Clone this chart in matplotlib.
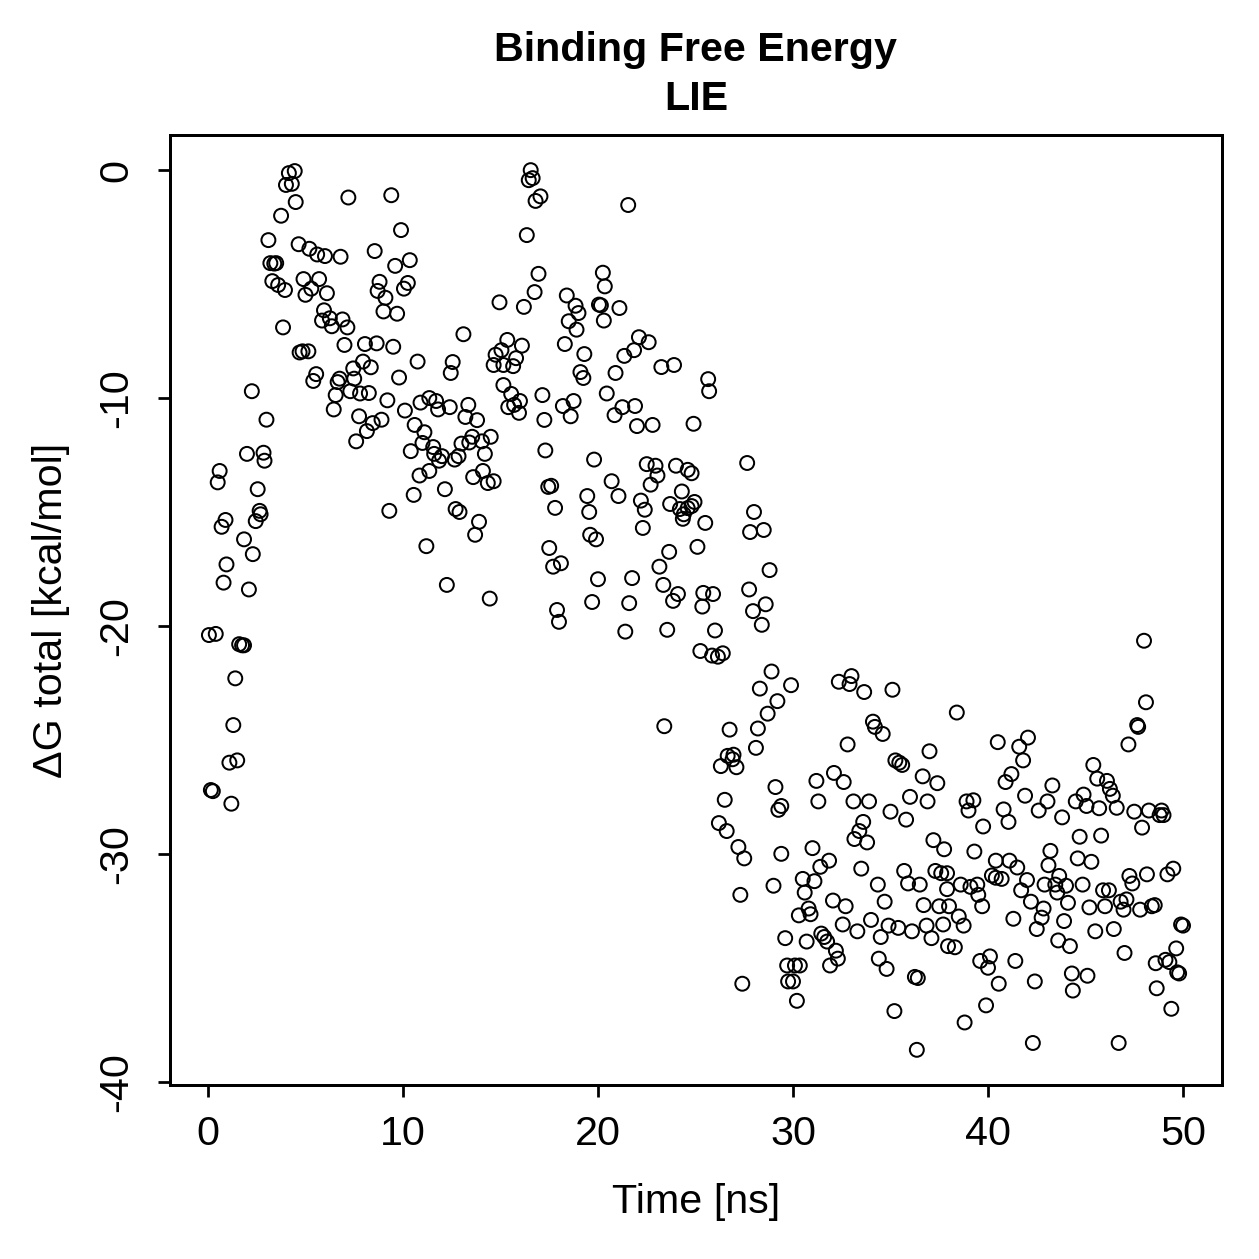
import numpy as np
import matplotlib.pyplot as plt

plt.rcParams['font.family'] = ['Liberation Sans', 'DejaVu Sans']
plt.rcParams['axes.unicode_minus'] = False

# time [ns] and dG total [kcal/mol]
time_ns = [
    0.05, 0.15, 0.25, 0.4, 0.5, 0.6, 0.7, 0.8, 0.9, 0.95, 1.1, 1.2, 1.3, 1.4, 1.5, 1.6,
    1.75, 1.85, 1.85, 2.0, 2.1, 2.25, 2.3, 2.45, 2.55, 2.65, 2.7, 2.85, 2.9, 3.0,
    3.1, 3.2, 3.3, 3.4, 3.5, 3.6, 3.75, 3.85, 3.95, 4.0, 4.15, 4.3, 4.45, 4.5, 4.65, 4.7,
    4.85, 4.9, 5.0, 5.15, 5.2, 5.3, 5.4, 5.55, 5.6, 5.7, 5.85, 5.95, 6.0, 6.1, 6.25, 6.35,
    6.45, 6.55, 6.65, 6.75, 6.8, 6.9, 7.0, 7.15, 7.2, 7.3, 7.45, 7.5, 7.6, 7.75, 7.8, 7.95,
    8.05, 8.15, 8.25, 8.35, 8.45, 8.55, 8.65, 8.7, 8.8, 8.9, 9.0, 9.1, 9.2, 9.3, 9.4, 9.5,
    9.6, 9.7, 9.8, 9.9, 10.05, 10.1,
    10.25, 10.35, 10.4, 10.55, 10.6, 10.75, 10.85, 10.9, 11.0, 11.1, 11.2, 11.35, 11.35,
    11.55, 11.6, 11.7, 11.8, 11.85, 12.0, 12.15, 12.25, 12.4, 12.45, 12.55, 12.65, 12.7,
    12.85, 12.9, 13.0, 13.1, 13.2, 13.35, 13.4, 13.55, 13.6, 13.7, 13.8, 13.9, 14.05, 14.1,
    14.2, 14.35, 14.45, 14.5, 14.65, 14.65, 14.75, 14.95, 15.05, 15.15, 15.15, 15.35, 15.4,
    15.55, 15.65, 15.7, 15.8, 15.95, 16.0, 16.1, 16.2, 16.35, 16.45, 16.55, 16.65, 16.75,
    16.8, 16.95, 17.05, 17.15, 17.25, 17.3, 17.45, 17.5, 17.6, 17.7, 17.8, 17.9, 18.0, 18.1,
    18.2, 18.3, 18.4, 18.5, 18.6, 18.75, 18.85, 18.9, 19.0, 19.1, 19.25, 19.3, 19.45, 19.55,
    19.6, 19.7, 19.8, 19.9, 20.0, 20.05, 20.15, 20.25, 20.3, 20.35, 20.45,
    20.7, 20.85, 20.9, 21.05, 21.1, 21.25, 21.35, 21.4, 21.55, 21.6, 21.75, 21.85, 21.9,
    22.0, 22.1, 22.2, 22.3, 22.4, 22.5, 22.6, 22.7, 22.8, 22.95, 23.05, 23.15, 23.25, 23.35,
    23.4, 23.55, 23.65, 23.7, 23.85, 23.9, 24.0, 24.1, 24.2, 24.3, 24.35, 24.4, 24.6, 24.6,
    24.8, 24.8, 24.9, 24.95, 25.1, 25.25, 25.35, 25.4, 25.5, 25.65, 25.7, 25.85, 25.9, 26.0,
    26.15, 26.2, 26.3, 26.4, 26.5, 26.6, 26.65, 26.75, 26.9, 26.95, 27.1, 27.2, 27.3, 27.4,
    27.5, 27.65, 27.75, 27.8, 27.95, 28.0, 28.1, 28.2, 28.3, 28.4, 28.5, 28.6, 28.7, 28.8,
    28.9, 29.0, 29.1, 29.2, 29.25, 29.4, 29.4, 29.6, 29.7, 29.75, 29.9, 30.0, 30.1, 30.2,
    30.3, 30.35, 30.5, 30.6, 30.7, 30.8, 30.9, 31.0, 31.1, 31.2, 31.3, 31.4, 31.45, 31.6,
    31.75, 31.85, 31.9, 32.05, 32.1, 32.2, 32.3, 32.35, 32.55, 32.6, 32.7, 32.8, 32.9, 33.0,
    33.1, 33.15, 33.3, 33.4, 33.5, 33.6, 33.65, 33.8, 33.9, 34.0, 34.1, 34.2, 34.35, 34.4,
    34.5, 34.6, 34.7, 34.8, 34.9, 35.0, 35.1, 35.2, 35.25, 35.4, 35.45, 35.6, 35.7, 35.8,
    35.9, 36.0, 36.1, 36.25, 36.35, 36.4, 36.5, 36.65, 36.7, 36.85, 36.9, 37.0, 37.1, 37.2,
    37.3, 37.4, 37.5, 37.6, 37.7, 37.75, 37.9, 37.9, 37.95, 38.0, 38.3, 38.4, 38.5, 38.6,
    38.75, 38.8, 38.9, 39.0, 39.1, 39.25, 39.3, 39.45, 39.5, 39.6, 39.7, 39.75, 39.9, 40.0,
    40.1, 40.2, 40.4, 40.4, 40.5, 40.55, 40.7, 40.8, 40.9, 41.05, 41.1, 41.2, 41.3, 41.4,
    41.5, 41.6, 41.7, 41.8, 41.9, 42.0, 42.05, 42.2, 42.3, 42.4, 42.5, 42.6, 42.75, 42.85,
    42.9, 43.05, 43.1, 43.2, 43.3, 43.45, 43.55, 43.6, 43.65, 43.8, 43.9, 44.0, 44.1, 44.2,
    44.3, 44.35, 44.5, 44.6, 44.7, 44.85, 44.9, 45.05, 45.1, 45.2, 45.3, 45.4, 45.5, 45.6,
    45.7, 45.8, 45.9, 46.0, 46.1, 46.2, 46.25, 46.4, 46.45, 46.6, 46.7, 46.8, 46.95, 47.0,
    47.1, 47.2, 47.25, 47.4, 47.5, 47.65, 47.7, 47.8, 47.9, 48.0, 48.1, 48.15, 48.25, 48.4,
    48.55, 48.6, 48.65, 48.8, 48.9, 49.0, 49.1, 49.2, 49.3, 49.4, 49.5, 49.65, 49.7, 49.8,
    49.9, 50.0,
]

dg_total = [
    -20.4, -27.2, -27.25, -20.35, -13.7, -13.2, -15.65, -18.1, -15.35, -17.3, -26.0, -27.8,
    -24.35, -22.3, -25.9, -20.8, -20.85, -20.85, -16.2, -12.45, -18.4, -9.7, -16.85, -15.4,
    -14.0, -14.95, -15.1, -12.4, -12.75, -10.95,
    -3.07, -4.08, -4.87, -4.1, -4.08, -5.04, -2.0, -6.9, -5.26, -0.65, -0.13, -0.6, -0.04,
    -1.4, -3.25, -8.0, -7.95, -4.78, -5.47, -7.95, -3.45, -5.2, -9.25, -8.95, -3.7, -4.78,
    -6.6, -6.15, -3.77, -5.4, -6.5, -6.85, -10.5, -9.87, -9.3, -9.15, -3.8, -6.55, -7.67,
    -6.9, -1.2, -9.7, -8.7, -9.15, -11.9, -10.8, -9.8, -8.4, -7.63, -11.45, -9.78, -8.65,
    -11.1, -3.55, -7.6, -5.3, -4.9, -10.95, -6.2, -5.6, -10.1, -14.95, -1.1, -7.75, -4.2,
    -6.3, -9.1, -2.63, -5.2, -10.55,
    -4.95, -3.95, -12.33, -14.25, -11.18, -8.4, -13.4, -10.2, -11.97, -11.5, -16.5, -10.0,
    -13.2, -12.15, -12.45, -10.13, -10.5, -12.75, -12.55, -14.0, -18.2, -10.4, -8.9, -8.42,
    -12.7, -14.87, -12.55, -15.0, -12.0, -7.2, -10.83, -10.3, -11.95, -11.7, -13.47, -16.0,
    -10.97, -15.43, -11.9, -13.2, -12.45, -13.73, -18.8, -11.7, -13.65, -8.55, -8.1, -5.8,
    -7.9, -8.55, -9.43, -7.45, -10.4, -9.82, -8.6, -10.3, -8.25, -10.65, -10.13, -7.7, -6.0,
    -2.85, -0.44, 0.0, -0.35, -5.35, -1.35, -4.55, -1.15, -9.87, -10.96, -12.3, -13.9,
    -16.58, -13.85, -17.4, -14.82, -19.3, -19.82, -17.25, -10.35, -7.63, -5.5, -6.63, -10.8,
    -10.13, -5.95, -7.0, -6.27, -8.86, -9.12, -8.07, -14.3, -15.0, -16.0, -18.95, -12.7,
    -16.2, -17.95, -5.9, -5.93, -4.5, -6.6, -5.1, -9.8,
    -13.65, -10.75, -8.9, -14.3, -6.05, -10.4, -8.15, -20.25, -1.53, -19.0, -17.9, -7.9,
    -10.35, -11.23, -7.33, -14.5, -15.7, -14.9, -12.9, -7.55, -13.8, -11.18, -12.97, -13.4,
    -17.4, -8.64, -18.2, -24.4, -20.17, -16.75, -14.65, -18.9, -8.55, -12.97, -18.6, -14.87,
    -14.1, -15.3, -15.1, -14.83, -13.15, -14.74, -13.3, -11.13, -14.56, -16.53, -21.1,
    -19.15, -18.55, -15.48, -9.17, -9.7, -21.3, -18.6, -20.2, -21.35, -28.65, -26.15, -21.2,
    -27.63, -29.0, -25.7, -24.55, -25.85, -25.65, -26.2, -29.7, -31.8, -35.7, -30.2, -12.85,
    -18.4, -15.88, -19.35, -15.0, -25.35, -24.5, -22.75, -19.95, -15.79, -19.05, -23.85,
    -17.55, -22.0, -31.4, -27.07, -23.3, -28.07, -27.9, -30.0, -33.7, -34.9, -35.6, -22.6,
    -35.6, -34.9, -36.45, -32.7, -34.9, -31.1, -31.7, -33.85, -32.4, -32.65, -29.75, -31.2,
    -26.8, -27.7, -30.57, -33.5, -33.65, -33.85, -30.3, -34.9, -32.05, -26.45, -34.25,
    -34.6, -22.45, -33.1, -26.85, -32.3, -25.2, -22.55, -22.2, -27.7, -29.35, -33.4, -29.0,
    -30.65, -28.6, -22.9, -29.5, -27.7, -32.9, -24.2, -24.43, -31.35, -34.6, -33.65, -24.74,
    -32.1, -35.05, -33.15, -28.15, -22.8, -36.9, -25.9, -33.25, -26.0, -26.1, -30.75, -28.5,
    -31.3, -27.5, -33.4, -35.4, -38.6, -35.45, -31.35, -26.6, -32.25, -33.15, -27.7, -25.5,
    -33.7, -29.4, -30.75, -26.9, -32.3, -30.85, -33.1, -29.8, -30.85, -31.55, -34.05, -32.3,
    -34.1, -23.8, -32.75, -31.35, -33.15, -37.4, -27.7, -28.1, -31.45, -27.65, -29.9, -31.35,
    -31.8, -34.7, -32.3, -28.8, -36.65, -35.0, -34.5, -30.95, -30.3, -31.05, -25.1, -35.7,
    -31.1, -28.05, -26.85, -28.6, -30.3, -26.5, -32.85, -34.7, -30.6, -25.3, -31.6, -25.9,
    -27.45, -31.15, -24.9, -32.1, -38.3, -35.6, -33.3, -28.1, -32.8, -32.4, -31.35, -27.7,
    -30.5, -29.87, -27.0, -31.35, -31.7, -33.8, -30.97, -28.4, -32.95, -31.4, -32.15, -34.05,
    -35.25, -36.0, -27.7, -30.2, -29.25, -31.35, -27.4, -27.9, -35.35, -32.35, -30.35, -26.1,
    -33.4, -26.7, -28.0, -29.2, -31.6, -32.3, -26.8, -31.6, -27.15, -27.45, -33.3, -27.98,
    -38.3, -32.1, -32.45, -34.35, -32.0, -25.2, -30.97, -31.3, -28.15, -24.35, -24.43, -32.45,
    -28.85, -20.65, -23.35, -30.9, -28.1, -32.3, -32.25, -34.8, -35.9, -28.3, -28.1, -28.3,
    -34.65, -30.9, -34.75, -36.8, -30.65, -34.15, -35.2, -35.25, -33.1, -33.15,
]

t = np.array(time_ns)
dg = np.array(dg_total)

fig = plt.figure(figsize=(1259 / 180, 1259 / 180), dpi=180)
ax = fig.add_axes([0.135, 0.1382, 0.8356, 0.7546])

ax.scatter(t, dg, s=31, facecolors='none', edgecolors='black', linewidths=0.8)

# R style 4% padding
xr = t.max() - t.min()
yr = dg.max() - dg.min()
ax.set_xlim(t.min() - 0.04 * xr, t.max() + 0.04 * xr)
ax.set_ylim(dg.min() - 0.04 * yr, dg.max() + 0.04 * yr)

ax.set_xticks([0, 10, 20, 30, 40, 50])
ax.set_yticks([0, -10, -20, -30, -40])
ax.tick_params(direction='out', length=4.8, width=1.1, labelsize=16.5)
ax.tick_params(axis='x', pad=7)
ax.tick_params(axis='y', pad=9)
for lab in ax.get_yticklabels():
    lab.set_rotation(90)
    lab.set_va('center')
for sp in ax.spines.values():
    sp.set_linewidth(1.2)

ax.set_xlabel("Time [ns]", fontsize=16.5, labelpad=12)
ax.set_ylabel("\u0394G total [kcal/mol]", fontsize=16.5, labelpad=11)
ax.set_title("Binding Free Energy\nLIE", fontsize=16.5, fontweight='bold', pad=10,
             linespacing=1.38)

fig.savefig("out.png", dpi=180)
